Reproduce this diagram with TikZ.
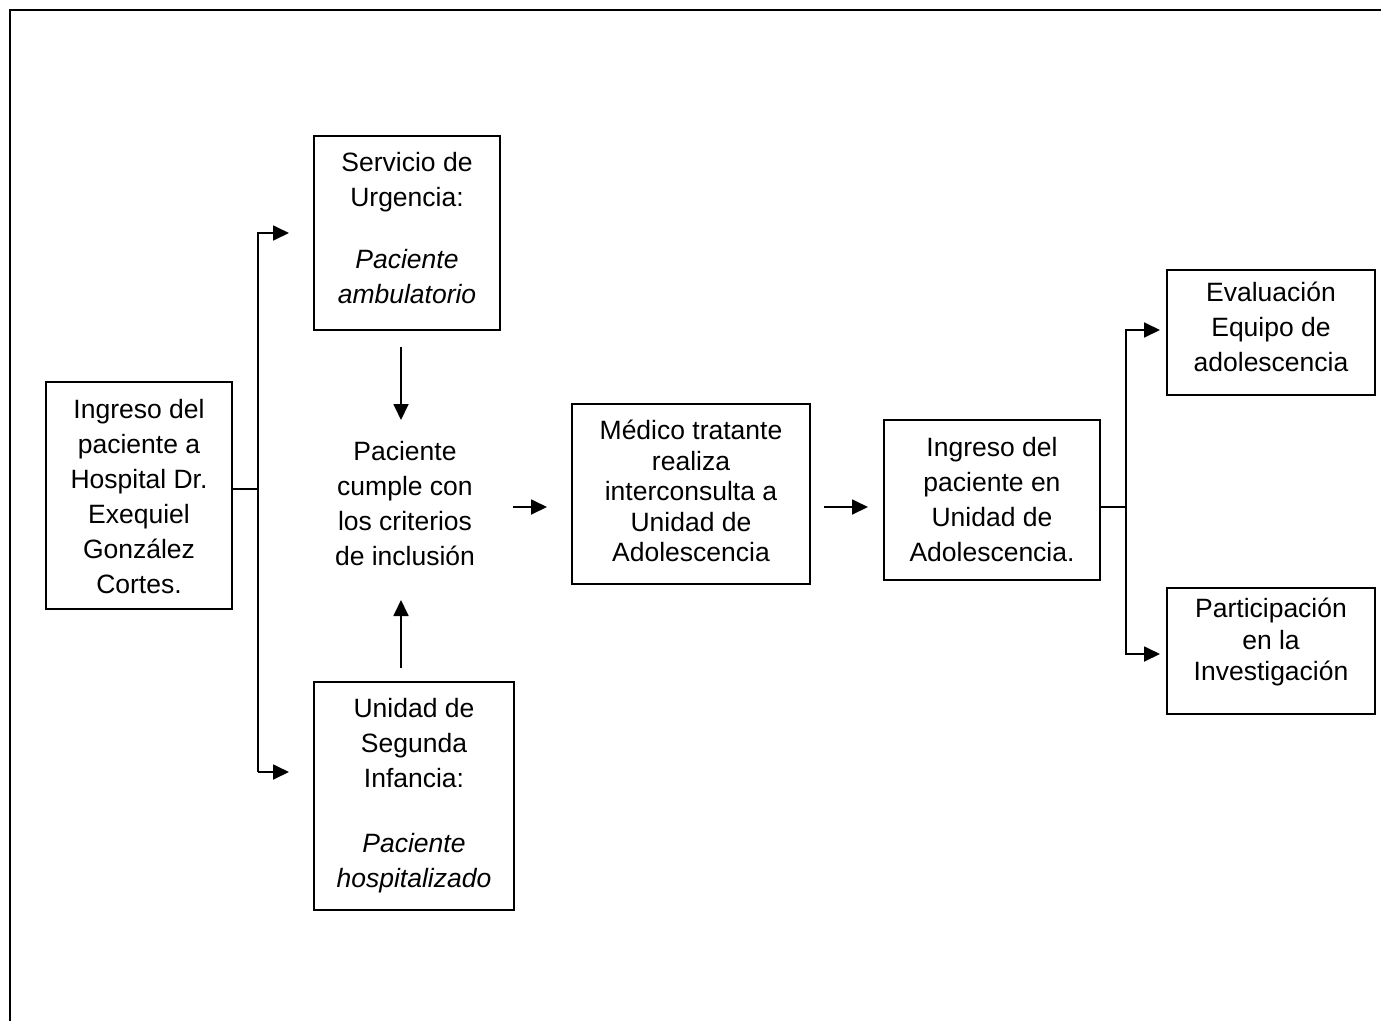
\documentclass[tikz,border=0pt]{standalone}
\usepackage{fontspec}
\setmainfont{Liberation Sans}
\usetikzlibrary{arrows.meta}
\begin{document}
\begin{tikzpicture}[x=1pt,y=-1pt,
  boxnode/.style={draw, line width=1.1pt, inner sep=0pt},
  txt/.style={align=center, inner sep=0pt, font=\fontsize{26.5}{35}\selectfont},
  txtb/.style={align=center, inner sep=0pt, font=\fontsize{26.5}{30.5}\selectfont},
  conn/.style={line width=1.1pt},
  arr/.style={line width=1.8pt, -{Triangle[length=16pt,width=15pt]}}]
\useasboundingbox (0,0) rectangle (1381,1020);
% frame
\draw[line width=2.2pt] (10,1021) -- (10,10) -- (1382,10);
% boxes
\node[boxnode, minimum width=186pt, minimum height=227pt] (A) at (139,495.5) {};
\node[boxnode, minimum width=186pt, minimum height=194pt] (B) at (407,233) {};
\node[boxnode, minimum width=200pt, minimum height=228pt] (D) at (414,796) {};
\node[boxnode, minimum width=238pt, minimum height=180pt] (E) at (691,494) {};
\node[boxnode, minimum width=216pt, minimum height=160pt] (F) at (992,500) {};
\node[boxnode, minimum width=208pt, minimum height=125pt] (G) at (1271,332.5) {};
\node[boxnode, minimum width=208pt, minimum height=126pt] (H) at (1271,651) {};
% texts
\node[txt] (At) at (139,497) {Ingreso del\\paciente a\\Hospital Dr.\\Exequiel\\González\\Cortes.};
\node[txt] (Bt) at (407,228) {Servicio de\\Urgencia:\\[27pt]\textit{Paciente}\\\textit{ambulatorio}};
\node[txt] (C) at (405,504) {Paciente\\cumple con\\los criterios\\de inclusión};
\node[txt] (Dt) at (414,796) {Unidad de\\Segunda\\Infancia:\\[30pt]\textit{Paciente}\\\textit{hospitalizado}};
\node[txtb] (Et) at (691,491) {Médico tratante\\realiza\\interconsulta a\\Unidad de\\Adolescencia};
\node[txt] (Ft) at (992,500) {Ingreso del\\paciente en\\Unidad de\\Adolescencia.};
\node[txt] (Gt) at (1271,327) {Evaluación\\Equipo de\\adolescencia};
\node[font=\fontsize{26.5}{31.5}\selectfont, align=center, inner sep=0pt] (Ht) at (1271,642) {Participación\\en la\\Investigación};
% connector coordinates
\coordinate (ja) at (258,489);
\coordinate (jat) at (258,233);
\coordinate (jab) at (258,772);
\coordinate (bta) at (289,233);
\coordinate (bba) at (289,772);
\coordinate (b1) at (401,347);
\coordinate (b2) at (401,420);
\coordinate (d1) at (401,668);
\coordinate (d2) at (401,600);
\coordinate (c1) at (513,507);
\coordinate (c2) at (547,507);
\coordinate (e1) at (824,507);
\coordinate (e2) at (868,507);
\coordinate (jf) at (1126,507);
\coordinate (jft) at (1126,330);
\coordinate (jfb) at (1126,654);
\coordinate (gta) at (1160,330);
\coordinate (hta) at (1160,654);
% connectors
\draw[conn] (A.east |- ja) -- (ja);
\draw[arr] (jab) -- (jat) -- (bta);
\draw[arr] (jab) -- (bba);
\draw[arr] (b1) -- (b2);
\draw[arr] (d1) -- (d2);
\draw[arr] (c1) -- (c2);
\draw[arr] (e1) -- (e2);
\draw[conn] (F.east |- jf) -- (jf);
\draw[arr] (jfb) -- (jft) -- (gta);
\draw[arr] (jft) -- (jfb) -- (hta);
\end{tikzpicture}
\end{document}
